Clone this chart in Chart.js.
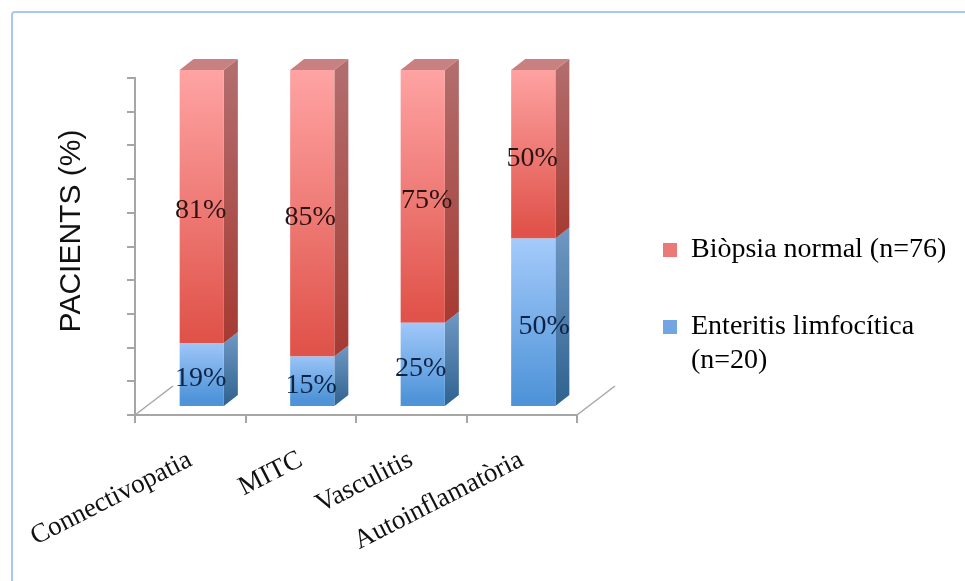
<!DOCTYPE html>
<html>
<head>
<meta charset="utf-8">
<style>
  html, body { margin: 0; padding: 0; background: #fff; overflow: hidden; }
  #frame { position: absolute; left: 11px; top: 11px; width: 960px; height: 580px;
           border: 2px solid #a9c8ec; border-radius: 4px; box-sizing: border-box; }
  #wrap { position: absolute; left: 0; top: 0; width: 965px; height: 581px; }
</style>
<script src="https://cdn.jsdelivr.net/npm/chart.js@4"></script>
</head>
<body>
<div id="frame"></div>
<div id="wrap"><canvas id="chart" width="965" height="581"></canvas></div>
<script>
const categories = ['Connectivopatia', 'MITC', 'Vasculitis', 'Autoinflamatòria'];
const enteritisValues = [19, 15, 25, 50];
const normalValues = [81, 85, 75, 50];
const seriesNames = ['Enteritis limfocítica (n=20)', 'Biòpsia normal (n=76)'];
const legendLines = { 'Enteritis limfocítica (n=20)': ['Enteritis limfocítica', '(n=20)'] };
const axisTitle = 'PACIENTS (%)';

// Small sideways nudges for the value labels, in pixels, per series and bar.
const labelNudgeX = [[-1, -1, -2, 11], [-1, -2, 4, -1]];

const SERIF = '"Liberation Serif", serif';
const AXIS_GREY = '#a6a6a6';
const BAR_SHIFT_X = 11.5;   // bars stand inside the floor, not on its front edge
const BAR_SHIFT_Y = -8;
const DEPTH_X = 14;         // receding edge of each block
const DEPTH_Y = -11;

const palette = [
  { front: ['#a9cdfd', '#4f94d8'], side: ['#7098c4', '#2f628f'] },
  { front: ['#ffa6a6', '#e0534a'], side: ['#b26f6f', '#a63a32'], top: '#c98080' }
];

function verticalGradient(ctx, y0, y1, stops) {
  const g = ctx.createLinearGradient(0, y0, 0, y1);
  g.addColorStop(0, stops[0]);
  g.addColorStop(1, stops[1]);
  return g;
}

function frontFill(context) {
  const chart = context.chart;
  if (!chart.chartArea) return palette[context.datasetIndex].front[0];
  const y = chart.scales.y;
  const i = context.dataIndex;
  const low = context.datasetIndex === 0 ? 0 : enteritisValues[i];
  const high = low + context.dataset.data[i];
  return verticalGradient(chart.ctx,
    y.getPixelForValue(high) + BAR_SHIFT_Y,
    y.getPixelForValue(low) + BAR_SHIFT_Y,
    palette[context.datasetIndex].front);
}

// Receding faces, floor diagonals, value labels and the axis title around the library's bars.
const blockPlugin = {
  id: 'blocks',
  beforeDatasetsDraw(chart) {
    const { ctx, chartArea: a } = chart;
    ctx.save();
    ctx.strokeStyle = AXIS_GREY;
    ctx.lineWidth = 1.5;
    [a.left, a.right].forEach(x => {
      ctx.beginPath();
      ctx.moveTo(x, a.bottom);
      ctx.lineTo(x + 38, a.bottom - 29);
      ctx.stroke();
    });
    ctx.restore();
    ctx.save();
    ctx.translate(BAR_SHIFT_X, BAR_SHIFT_Y);
    chart.data.datasets.forEach((ds, d) => {
      chart.getDatasetMeta(d).data.forEach(bar => {
        const right = bar.x + bar.width / 2;
        const left = bar.x - bar.width / 2;
        ctx.fillStyle = verticalGradient(ctx, bar.y + DEPTH_Y, bar.base, palette[d].side);
        ctx.beginPath();
        ctx.moveTo(right, bar.y);
        ctx.lineTo(right + DEPTH_X, bar.y + DEPTH_Y);
        ctx.lineTo(right + DEPTH_X, bar.base + DEPTH_Y);
        ctx.lineTo(right, bar.base);
        ctx.closePath();
        ctx.fill();
        if (palette[d].top) {
          ctx.fillStyle = palette[d].top;
          ctx.beginPath();
          ctx.moveTo(left, bar.y);
          ctx.lineTo(left + DEPTH_X, bar.y + DEPTH_Y);
          ctx.lineTo(right + DEPTH_X, bar.y + DEPTH_Y);
          ctx.lineTo(right, bar.y);
          ctx.closePath();
          ctx.fill();
        }
      });
    });
    ctx.restore();
    ctx.save();
    ctx.translate(BAR_SHIFT_X, BAR_SHIFT_Y);
  },
  afterDatasetsDraw(chart) {
    const { ctx } = chart;
    ctx.restore();
    ctx.save();
    ctx.font = '28px ' + SERIF;
    ctx.textAlign = 'center';
    ctx.textBaseline = 'middle';
    chart.data.datasets.forEach((ds, d) => {
      ctx.fillStyle = d === 0 ? '#0c2346' : '#2a1414';
      chart.getDatasetMeta(d).data.forEach((bar, i) => {
        const cx = bar.x + BAR_SHIFT_X + labelNudgeX[d][i];
        const cy = (bar.y + bar.base) / 2 + BAR_SHIFT_Y + 4;
        ctx.fillText(ds.data[i] + '%', cx, cy);
      });
    });
    ctx.restore();
    ctx.save();
    ctx.translate(72, 231);
    ctx.rotate(-Math.PI / 2);
    ctx.font = '30px "Liberation Sans", sans-serif';
    ctx.fillStyle = '#111';
    ctx.textAlign = 'center';
    ctx.textBaseline = 'middle';
    ctx.fillText(axisTitle, 0, 0);
    ctx.restore();
  },
  afterLayout(chart) {
    // Park the legend in the free column right of the floor.
    const lg = chart.legend;
    const h = lg.bottom - lg.top;
    lg.left = 614;
    lg.right = lg.left + lg.width;
    lg.top = 187;
    lg.bottom = lg.top + h;
  }
};

new Chart(document.getElementById('chart'), {
  type: 'bar',
  data: {
    labels: categories,
    datasets: [
      { label: seriesNames[0], data: enteritisValues, backgroundColor: frontFill, yAxisID: 'y' },
      { label: seriesNames[1], data: normalValues, backgroundColor: frontFill, yAxisID: 'y' }
    ]
  },
  plugins: [blockPlugin],
  options: {
    responsive: false,
    animation: false,
    layout: { padding: { top: 78, right: 388, left: 0, bottom: 0 } },
    datasets: { bar: { barPercentage: 0.4, categoryPercentage: 1 } },
    scales: {
      x: {
        stacked: true,
        border: { color: AXIS_GREY, width: 2 },
        grid: { drawOnChartArea: false, color: AXIS_GREY, lineWidth: 2, tickLength: 8 },
        ticks: {
          color: '#111',
          font: { family: SERIF, size: 27 },
          minRotation: 27, maxRotation: 27, padding: 21, autoSkip: false
        },
        afterFit(scale) {
          scale.height = 166;
          // Rotated labels run out to the left of the axis; keep the plot edge where it is.
          scale.paddingLeft = 0;
          scale.paddingRight = 0;
        }
      },
      y: {
        stacked: true,
        min: 0, max: 100,
        border: { color: AXIS_GREY, width: 2 },
        grid: { drawOnChartArea: false, color: AXIS_GREY, lineWidth: 2, tickLength: 8 },
        ticks: { display: false, stepSize: 10, autoSkip: false },
        afterFit(scale) { scale.width = 135; }
      }
    },
    plugins: {
      tooltip: { enabled: false },
      legend: {
        position: 'chartArea',
        align: 'start',
        reverse: true,
        labels: {
          color: '#111',
          font: { family: SERIF, size: 28, lineHeight: 1.214 },
          boxWidth: 14, boxHeight: 14,
          padding: 49,
          generateLabels(chart) {
            return chart.data.datasets.map((ds, i) => ({
              text: legendLines[ds.label] || ds.label,
              fillStyle: i === 0 ? '#74a5e3' : '#ec7878',
              strokeStyle: 'transparent',
              lineWidth: 0,
              datasetIndex: i
            }));
          }
        }
      }
    }
  }
});
</script>
</body>
</html>
